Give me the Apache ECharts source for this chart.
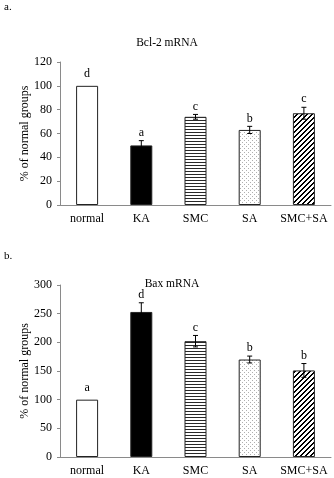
<!DOCTYPE html>
<html>
<head>
<meta charset="utf-8">
<script src="https://cdn.jsdelivr.net/npm/echarts@6/dist/echarts.min.js"></script>
<style>
  html, body { margin: 0; padding: 0; background: #fff; }
  #chart { width: 334px; height: 478px; }
</style>
</head>
<body>
<div id="chart"></div>
<script>
// 组别
const groups = ['normal', 'KA', 'SMC', 'SA', 'SMC+SA'];
// Bcl-2 mRNA
const bclValues = [100, 50, 74, 63, 77];
const bclErrors = [0, 4, 2, 3, 5];
const bclLetters = ['d', 'a', 'c', 'b', 'c'];
// Bax mRNA
const baxValues = [100, 253, 202, 170, 151];
const baxErrors = [0, 16, 10, 6, 12];
const baxLetters = ['a', 'd', 'c', 'b', 'b'];

const FONT = '"Liberation Serif", "DejaVu Serif", serif';

// 填充图案 (canvas 平铺)
function makeTile(w, h, fn) {
    const c = document.createElement('canvas');
    c.width = w; c.height = h;
    const ctx = c.getContext('2d');
    const img = ctx.createImageData(w, h);
    for (let y = 0; y < h; y++) {
        for (let x = 0; x < w; x++) {
            const v = fn(x, y);
            const i = (y * w + x) * 4;
            img.data[i] = v; img.data[i + 1] = v; img.data[i + 2] = v; img.data[i + 3] = 255;
        }
    }
    ctx.putImageData(img, 0, 0);
    return { image: c, repeat: 'repeat' };
}
const fills = [
    '#ffffff',
    '#000000',
    makeTile(4, 3, (x, y) => (y === 0 ? 40 : 255)),                       // 横线
    makeTile(4, 4, (x, y) => ((x === 0 && y === 0) || (x === 2 && y === 2) ? 175 : 255)), // 点
    makeTile(5, 5, (x, y) => ((x + y) % 5 < 2 ? 0 : 255))                  // 斜线
];

const barData = (values) => values.map((v, i) => ({
    value: v,
    itemStyle: { color: fills[i] }
}));

// 误差线 + 字母
const errorSeries = (values, errors, letters, idx) => ({
    type: 'custom',
    xAxisIndex: idx,
    yAxisIndex: idx,
    z: 10,
    silent: true,
    data: values.map((v, i) => [i, v, errors[i]]),
    renderItem: (params, api) => {
        const i = api.value(0), v = api.value(1), e = api.value(2);
        const top = api.coord([i, v + e]);
        const bot = api.coord([i, v - e]);
        const cap = 2.5;
        const lineStyle = { stroke: '#000', lineWidth: 1 };
        const children = [];
        if (e > 0) {
            children.push(
                { type: 'line', shape: { x1: top[0], y1: top[1], x2: bot[0], y2: bot[1] }, style: lineStyle },
                { type: 'line', shape: { x1: top[0] - cap, y1: top[1], x2: top[0] + cap, y2: top[1] }, style: lineStyle },
                { type: 'line', shape: { x1: bot[0] - cap, y1: bot[1], x2: bot[0] + cap, y2: bot[1] }, style: lineStyle }
            );
        }
        children.push({
            type: 'text',
            style: {
                text: letters[params.dataIndex],
                x: top[0],
                y: top[1] - (e > 0 ? 2 : 6),
                align: 'center',
                verticalAlign: 'bottom',
                font: '12px ' + FONT,
                fill: '#000'
            }
        });
        return { type: 'group', children };
    }
});

const axisCommon = {
    axisLine: { lineStyle: { color: '#8a8a8a', width: 1 } },
    axisTick: { lineStyle: { color: '#8a8a8a' }, length: 4 },
    axisLabel: { color: '#000', fontFamily: FONT, fontSize: 12 },
    splitLine: { show: false }
};

const xAxisFor = (idx) => ({
    ...axisCommon,
    type: 'category',
    gridIndex: idx,
    data: groups,
    axisTick: { ...axisCommon.axisTick, alignWithLabel: false },
    axisLabel: { ...axisCommon.axisLabel, margin: 8, interval: 0 }
});

const yAxisFor = (idx, max, interval) => ({
    ...axisCommon,
    type: 'value',
    gridIndex: idx,
    min: 0,
    max: max,
    interval: interval,
    axisLine: { ...axisCommon.axisLine, show: true },
    axisTick: { ...axisCommon.axisTick, show: true, length: 3 },
    axisLabel: { ...axisCommon.axisLabel, margin: 8 },
    name: '% of normal groups',
    nameLocation: 'middle',
    nameGap: 29,
    nameMoveOverlap: false,
    nameTextStyle: { color: '#000', fontFamily: FONT, fontSize: 12 }
});

const chart = echarts.init(document.getElementById('chart'), null, { renderer: 'canvas' });
chart.setOption({
    animation: false,
    backgroundColor: '#fff',
    grid: [
        { left: 60, width: 271, top: 62, height: 143 },
        { left: 60, width: 271, top: 285, height: 172 }
    ],
    xAxis: [xAxisFor(0), xAxisFor(1)],
    yAxis: [yAxisFor(0, 120, 20), yAxisFor(1, 300, 50)],
    graphic: [
        { type: 'text', x: 4, y: 2, style: { text: 'a.', font: '11px ' + FONT, fill: '#000' } },
        { type: 'text', x: 167, y: 43, style: { text: 'Bcl-2 mRNA', font: '11.5px ' + FONT, fill: '#000', align: 'center', verticalAlign: 'middle' } },
        { type: 'text', x: 4, y: 251, style: { text: 'b.', font: '11px ' + FONT, fill: '#000' } },
        { type: 'text', x: 172, y: 284, style: { text: 'Bax mRNA', font: '11.5px ' + FONT, fill: '#000', align: 'center', verticalAlign: 'middle' } }
    ],
    series: [
        {
            type: 'bar',
            xAxisIndex: 0, yAxisIndex: 0,
            barWidth: 22,
            itemStyle: { borderColor: '#222', borderWidth: 1 },
            data: barData(bclValues)
        },
        errorSeries(bclValues, bclErrors, bclLetters, 0),
        {
            type: 'bar',
            xAxisIndex: 1, yAxisIndex: 1,
            barWidth: 22,
            itemStyle: { borderColor: '#222', borderWidth: 1 },
            data: barData(baxValues)
        },
        errorSeries(baxValues, baxErrors, baxLetters, 1)
    ]
});
</script>
</body>
</html>
